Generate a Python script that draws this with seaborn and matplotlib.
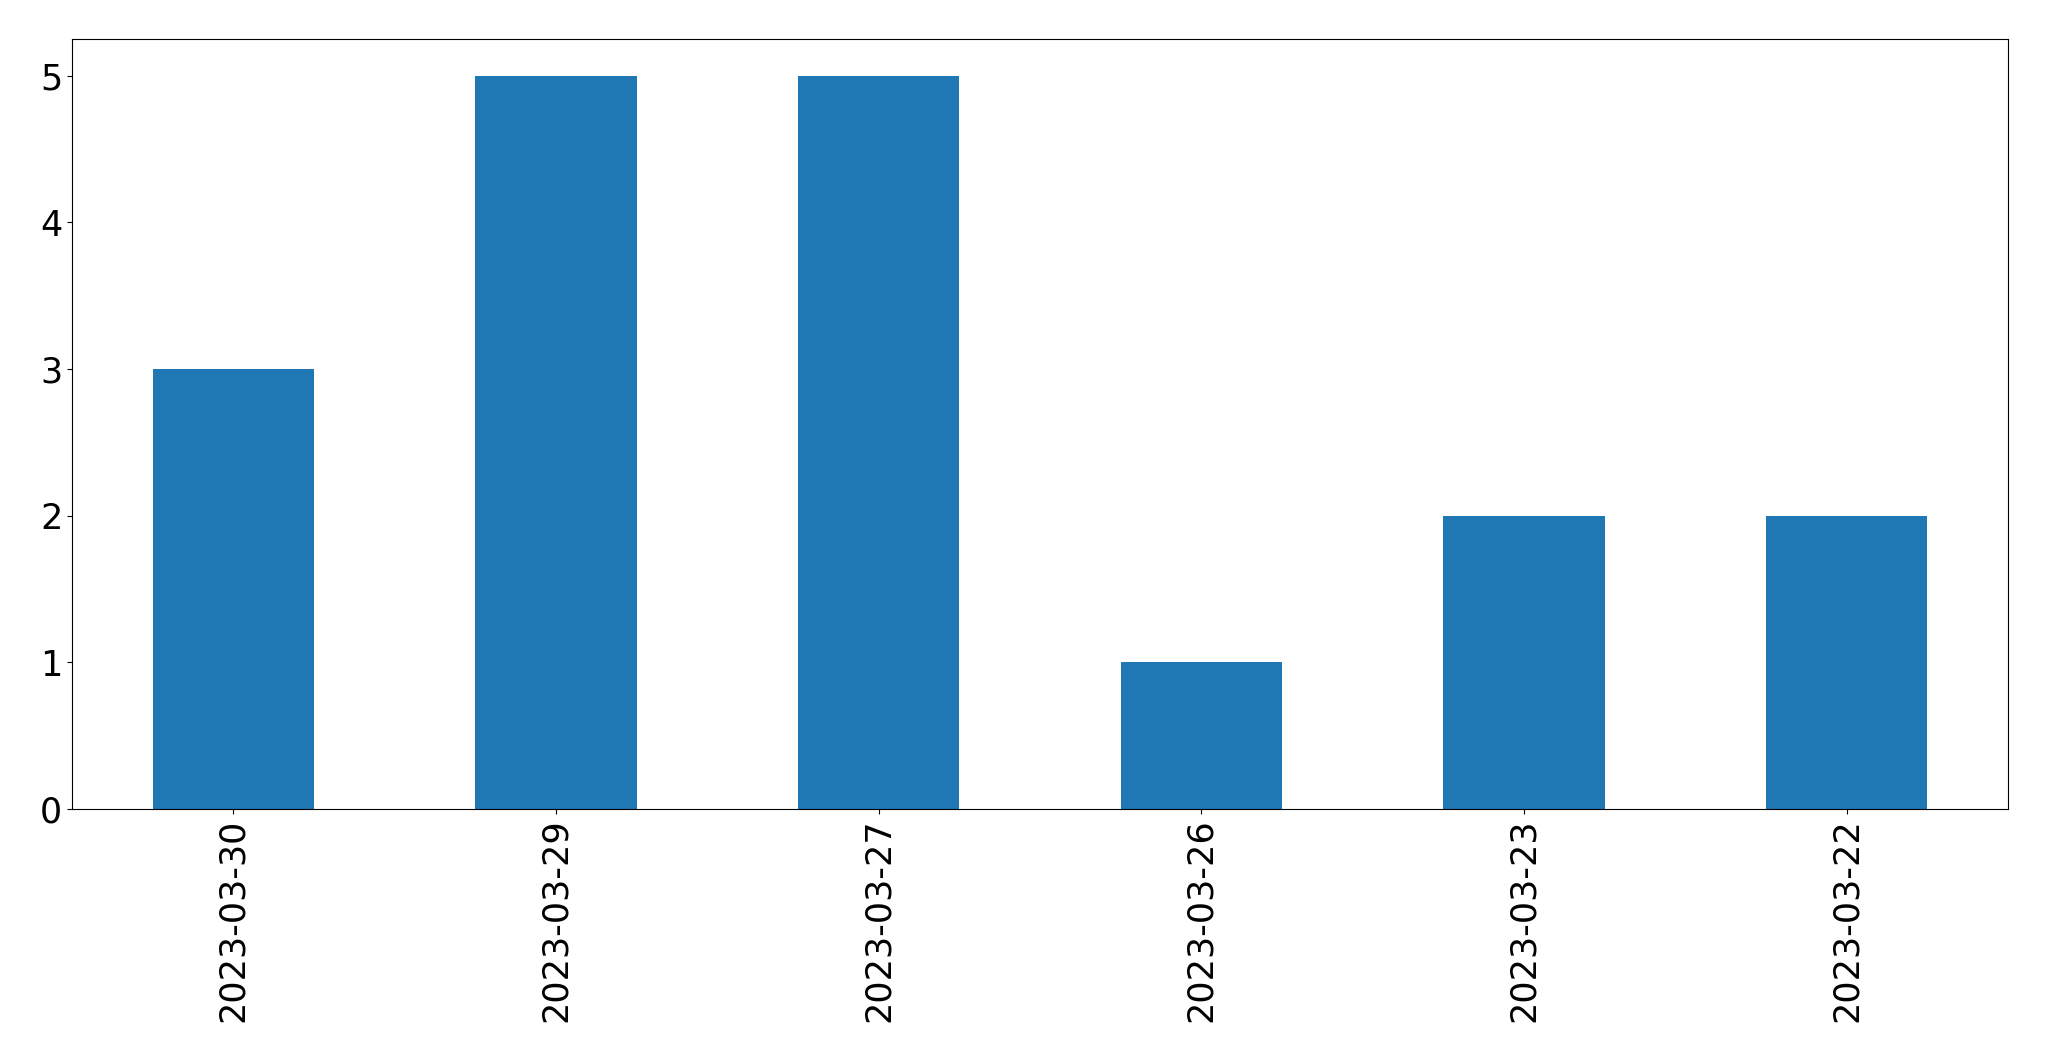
import matplotlib
matplotlib.use("Agg")
import matplotlib.pyplot as plt
import seaborn as sns
import pandas as pd

# datums en aantallen
dates = ["2023-03-30", "2023-03-29", "2023-03-27", "2023-03-26", "2023-03-23", "2023-03-22"]
counts = [3, 5, 5, 1, 2, 2]

df = pd.DataFrame({"date": dates, "count": counts})

fig = plt.figure(figsize=(20.49, 10.61), dpi=100)
ax = fig.add_subplot(111)
sns.barplot(data=df, x="date", y="count", color="#1f77b4", saturation=1, width=0.5, ax=ax)
ax.set_xlim(-0.5, len(dates) - 0.5)
ax.set_ylim(0, 5.25)
ax.set_xlabel("")
ax.set_ylabel("")
ax.tick_params(axis="both", labelsize=25.2)
plt.xticks(rotation=90)
fig.subplots_adjust(left=72 / 2049, right=2008 / 2049, top=1 - 39 / 1061, bottom=1 - 809 / 1061)
fig.savefig("out.png", dpi=100)
